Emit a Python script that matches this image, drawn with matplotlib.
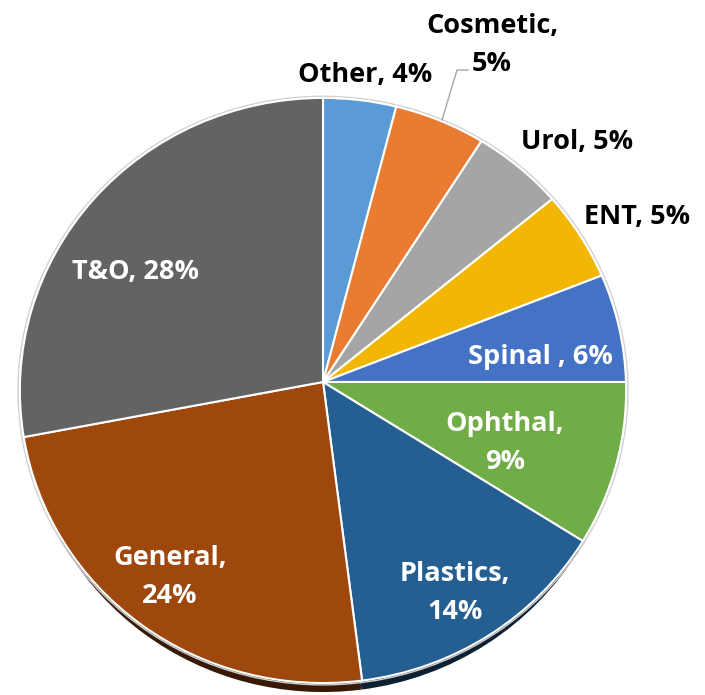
import numpy as np
import matplotlib.pyplot as plt
import matplotlib.transforms as mtransforms
from matplotlib.colors import to_rgb
from matplotlib.patches import Circle
from matplotlib.path import Path

categories = ["Other", "Cosmetic", "Urol", "ENT", "Spinal ", "Ophthal", "Plastics", "General", "T&O"]
shares = [4, 5, 5, 5, 6, 9, 14, 24, 28]
colors = ["#5B9BD5", "#E97C30", "#A5A5A5", "#F2B705", "#4472C4",
          "#70AD47", "#255E91", "#9E480E", "#636363"]
label_texts = ["Other, 4%", "Cosmetic,\n5%", "Urol, 5%", "ENT, 5%", "Spinal , 6%",
               "Ophthal,\n9%", "Plastics,\n14%", "General,\n24%", "T&O, 28%"]

# label centres in pixels (x, y from top) and colours
label_px = [(365, 75), (492, 45), (577, 142), (637, 217), (540, 357),
            (505, 443), (455, 593), (170, 577), (135, 272)]
label_colors = ["black", "black", "black", "black", "white",
                "white", "white", "white", "white"]

W, H = 705, 695
cx, cy = 323, 382          # pie centre in pixels
rx, ry, k = 303, 292.3, 0.029   # slight perspective tilt (top further away)


class Tilt(mtransforms.Transform):
    """unit-circle coords -> pixel coords with a mild perspective."""
    input_dims = output_dims = 2

    def transform_non_affine(self, pts):
        pts = np.asarray(pts, float)
        u, v = pts[:, 0], pts[:, 1]
        d = 1 + k * v
        return np.column_stack([cx + rx * u / d, cy - ry * v / d])

    def transform_path_non_affine(self, path):
        return Path(self.transform_non_affine(path.vertices), path.codes)


fig = plt.figure(figsize=(W / 100, H / 100), dpi=100)
ax = fig.add_axes([0, 0, 1, 1])

tilt = Tilt()

# shadow pie: darker colours, a bit narrower and pushed down
dark = [tuple(c * 0.35 for c in to_rgb(col)) for col in colors]
shadow, _ = ax.pie(shares, colors=dark, startangle=90, counterclock=False,
                   wedgeprops=dict(linewidth=0))
shift = mtransforms.Affine2D().translate(-cx, -cy).scale(0.985, 1).translate(cx, cy + 9)
for w in shadow:
    w.set_transform(tilt + shift + ax.transData)
    w.set_zorder(1)

ring = Circle((0, 0), 1.006, facecolor="none", edgecolor="#cfcfcf", lw=1, zorder=3)
ax.add_patch(ring)
ring.set_transform(tilt + ax.transData)

wedges, _ = ax.pie(shares, colors=colors, startangle=90, counterclock=False,
                   wedgeprops=dict(edgecolor="white", linewidth=1.5))
for w in wedges:
    w.set_transform(tilt + ax.transData)
    w.set_zorder(4)

for (px, py), txt, tc in zip(label_px, label_texts, label_colors):
    ax.text(px, py, txt, ha="center", va="center", color=tc, fontsize=19.5,
            fontweight="bold", family="Open Sans", linespacing=1.6, zorder=6)

# leader line for Cosmetic
ax.plot([442, 457, 468], [120, 70, 70], color="#a6a6a6", lw=1, zorder=5)

ax.set_aspect("auto")
ax.set_xlim(0, W)
ax.set_ylim(H, 0)
ax.axis("off")

fig.savefig("out.png", dpi=100)
